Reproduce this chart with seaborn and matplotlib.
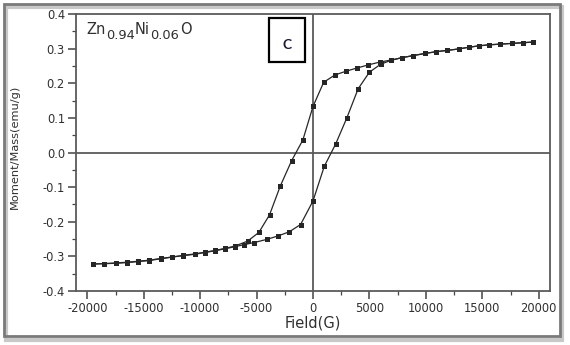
import matplotlib
matplotlib.use("Agg")
import matplotlib.pyplot as plt
import seaborn as sns
import pandas as pd
from matplotlib.patches import Rectangle
from matplotlib.ticker import MultipleLocator

# ---- data ----
field_up = [-19500, -18500, -17500, -16500, -15500, -14500, -13500, -12500,
            -11500, -10500, -9600, -8700, -7800, -6900, -6100, -5200, -4100,
            -3100, -2100, -1100, 0, 1000, 2000, 3000, 4000, 5000, 6000, 6900,
            7900, 8900, 9900, 10900, 11900, 12900, 13800, 14700, 15600, 16600,
            17600, 18600, 19500]
moment_up = [-0.322, -0.321, -0.320, -0.318, -0.315, -0.312, -0.307, -0.302,
             -0.298, -0.294, -0.289, -0.284, -0.278, -0.272, -0.266, -0.260,
             -0.251, -0.241, -0.229, -0.208, -0.140, -0.040, 0.024, 0.100,
             0.184, 0.232, 0.255, 0.266, 0.274, 0.280, 0.286, 0.291, 0.295,
             0.299, 0.304, 0.308, 0.311, 0.313, 0.315, 0.317, 0.319]

field_down = [19500, 18600, 17600, 16600, 15600, 14700, 13800, 12900, 11900,
              10900, 9900, 8900, 7900, 6900, 5900, 4900, 3900, 2950, 1950,
              950, 0, -900, -1900, -2900, -3850, -4800, -5800, -6900, -7800,
              -8700, -9600, -10500, -11500, -12500, -13500, -14500, -15500,
              -16500, -17500, -18500, -19500]
moment_down = [0.319, 0.317, 0.315, 0.313, 0.311, 0.308, 0.304, 0.299, 0.295,
               0.291, 0.286, 0.280, 0.274, 0.267, 0.261, 0.253, 0.244, 0.235,
               0.224, 0.203, 0.133, 0.036, -0.024, -0.097, -0.180, -0.231,
               -0.256, -0.270, -0.277, -0.283, -0.288, -0.293, -0.297, -0.302,
               -0.306, -0.311, -0.314, -0.317, -0.319, -0.321, -0.322]

x_ticks = [-20000, -15000, -10000, -5000, 0, 5000, 10000, 15000, 20000]
y_ticks = [-0.4, -0.3, -0.2, -0.1, 0.0, 0.1, 0.2, 0.3, 0.4]
x_label = "Field(G)"
y_label = "Moment/Mass(emu/g)"
sample_parts = [("Zn", False), ("0.94", True), ("Ni", False), ("0.06", True),
                ("O", False)]
panel_label = "C"

sns.set_style("ticks")
plt.rcParams["font.family"] = ["DejaVu Sans"]
plt.rcParams["axes.unicode_minus"] = False

W, H = 570, 345
TXT = "#303030"
fig = plt.figure(figsize=(W / 100, H / 100), dpi=100)
ax = fig.add_axes([76 / W, 1 - 291 / H, (550 - 76) / W, (291 - 14) / H])

df_up = pd.DataFrame({"field": field_up, "moment": moment_up})
df_down = pd.DataFrame({"field": field_down, "moment": moment_down})
for d in (df_up, df_down):
    sns.lineplot(data=d, x="field", y="moment", sort=False, estimator=None,
                 ax=ax, color="#262626", lw=0.9, marker="s", markersize=3.6,
                 markeredgewidth=0, zorder=3)

ax.axhline(0, color="#5a5a5a", lw=1.3, zorder=2)
ax.axvline(0, color="#5a5a5a", lw=1.3, zorder=2)

ax.set_xlim(-21000, 21000)
ax.set_ylim(-0.4, 0.4)
ax.set_xticks(x_ticks)
ax.set_yticks(y_ticks)
ax.set_xticklabels([str(v) for v in x_ticks])
ax.set_yticklabels([f"{v:.1f}" for v in y_ticks])
ax.xaxis.set_minor_locator(MultipleLocator(2500))
ax.yaxis.set_minor_locator(MultipleLocator(0.05))
ax.tick_params(which="major", direction="out", length=5.5, width=1.1,
               color="#444444", labelsize=8.3, labelcolor=TXT, pad=2.5)
ax.tick_params(which="minor", direction="out", length=3, width=0.9,
               color="#444444")
for s in ax.spines.values():
    s.set_color("#5a5a5a")
    s.set_linewidth(1.3)

ax.set_xlabel(x_label, fontsize=10.5, color=TXT)
ax.set_ylabel(y_label, fontsize=8.2, color=TXT)
ax.xaxis.set_label_coords(0.5, -0.09)
ax.yaxis.set_label_coords(-0.118, 0.52)

# sample label with subscripts built piecewise
prev = fig.text(86 / W, 1 - 34 / H, sample_parts[0][0], fontsize=10.5,
                color=TXT, ha="left", va="baseline")
for txt, sub in sample_parts[1:]:
    if sub:
        prev = ax.annotate(txt, xy=(1, 0), xycoords=prev,
                           xytext=(0.3, -3.3), textcoords="offset points",
                           fontsize=9.4, color=TXT, ha="left", va="bottom")
    else:
        prev = ax.annotate(txt, xy=(1, 0), xycoords=prev,
                           xytext=(0.3, 3.3), textcoords="offset points",
                           fontsize=10.5, color=TXT, ha="left", va="bottom")

# panel label box
fig.patches.append(Rectangle((269 / W, 1 - 62 / H), 36 / W, 44 / H,
                             transform=fig.transFigure, fill=True,
                             facecolor="white", edgecolor="black", lw=1.6,
                             zorder=5))
fig.text(287.5 / W, 1 - 45 / H, panel_label, fontsize=10, fontweight="bold",
         color="#1b1b3a", ha="center", va="center", family="Lato", zorder=6)

# outer frame with shadow
fig.patches.append(Rectangle((6 / W, 1 - 340 / H), 556 / W, 333 / H,
                             transform=fig.transFigure, fill=False,
                             edgecolor="#c8c8c8", lw=3, zorder=0))
fig.patches.append(Rectangle((4 / W, 1 - 336 / H), 556 / W, 332 / H,
                             transform=fig.transFigure, fill=False,
                             edgecolor="#7a7a7a", lw=2, zorder=1))

fig.savefig("out.png", dpi=100)
